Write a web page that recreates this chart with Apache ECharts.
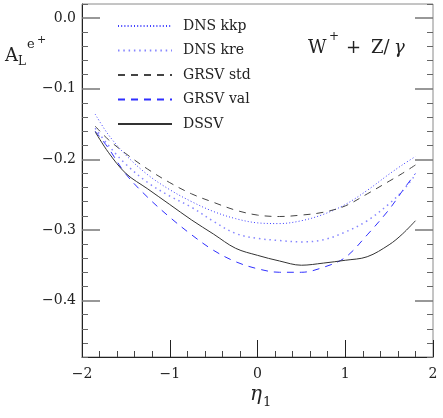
<!DOCTYPE html>
<html>
<head>
<meta charset="utf-8">
<script src="https://cdn.jsdelivr.net/npm/echarts@6/dist/echarts.min.js"></script>
<style>html,body{margin:0;padding:0;background:#fff;}#c{width:443px;height:418px;}</style>
</head>
<body>
<div id="c"></div>
<script>
// ---- data ----
const eta = [-1.85, -1.7, -1.5, -1.25, -1.0, -0.75, -0.5, -0.25, 0, 0.25, 0.5, 0.75, 1.0, 1.25, 1.5, 1.65, 1.8];
const dnsKkp  = [-0.136, -0.165, -0.194, -0.222, -0.243, -0.260, -0.274, -0.284, -0.290, -0.291, -0.287, -0.278, -0.264, -0.244, -0.221, -0.208, -0.196];
const dnsKre  = [-0.156, -0.180, -0.207, -0.233, -0.252, -0.268, -0.288, -0.305, -0.312, -0.315, -0.317, -0.314, -0.303, -0.287, -0.263, -0.245, -0.222];
const grsvStd = [-0.153, -0.172, -0.192, -0.214, -0.233, -0.249, -0.261, -0.272, -0.279, -0.281, -0.279, -0.275, -0.266, -0.249, -0.231, -0.220, -0.208];
const grsvVal = [-0.160, -0.184, -0.221, -0.254, -0.282, -0.307, -0.329, -0.345, -0.355, -0.360, -0.360, -0.353, -0.339, -0.307, -0.271, -0.245, -0.220];
const dssv    = [-0.161, -0.190, -0.220, -0.242, -0.264, -0.286, -0.306, -0.326, -0.336, -0.344, -0.350, -0.347, -0.343, -0.338, -0.321, -0.306, -0.287];
const seriesNames = ['DNS kkp', 'DNS kre', 'GRSV std', 'GRSV val', 'DSSV'];
const yMajorTicks = [-0.4, -0.3, -0.2, -0.1, 0.0];
const yMinorTicks = [-0.48, -0.46, -0.44, -0.42, -0.38, -0.36, -0.34, -0.32, -0.28, -0.26, -0.24, -0.22, -0.18, -0.16, -0.14, -0.12, -0.08, -0.06, -0.04, -0.02, 0.02];
const xTickLabels = ['−2', '−1', '0', '1', '2'];

const pairs = vals => eta.map((e, i) => [e, vals[i]]);
const FONT = 'DejaVu Serif';
const fmtY = v => (v < 0 ? '−' : '') + Math.abs(v).toFixed(1);

const chart = echarts.init(document.getElementById('c'), null, {renderer: 'canvas'});

function yAx(pos, ticks, len, showLabel, color, width, showLine) {
  return {
    type: 'value', position: pos, min: -0.48, max: 0.02,
    axisLine: {show: showLine, onZero: false, lineStyle: {color: '#222', width: 1}},
    axisTick: {show: true, inside: true, length: len, customValues: ticks, lineStyle: {color: color, width: width}},
    axisLabel: {show: showLabel, customValues: yMajorTicks, margin: 6, formatter: fmtY,
      fontFamily: FONT, fontSize: 14, color: '#222'},
    splitLine: {show: false}
  };
}

const lineSeries = (name, vals, color, type, width) => ({
  name: name, type: 'line', data: pairs(vals), smooth: 0.35, symbol: 'none', showSymbol: false,
  xAxisIndex: 0, yAxisIndex: 0,
  lineStyle: {color: color, type: type, width: width}, itemStyle: {color: color},
  emphasis: {disabled: true}, animation: false
});

chart.setOption({
  animation: false,
  grid: {left: 82, right: 10, top: 4, bottom: 61, show: true, borderColor: '#8a8a8a', borderWidth: 1, backgroundColor: 'transparent'},
  xAxis: [{
    type: 'value', min: -2, max: 2, interval: 1,
    axisLine: {show: true, onZero: false, lineStyle: {color: '#222', width: 1}},
    axisTick: {show: true, inside: true, length: 17, lineStyle: {color: '#222', width: 1}},
    minorTick: {show: true, splitNumber: 5, length: 6, lineStyle: {color: '#444', width: 1}},
    axisLabel: {margin: 10, fontFamily: FONT, fontSize: 14, color: '#222',
      formatter: v => xTickLabels[Math.round(v) + 2]},
    splitLine: {show: false}, minorSplitLine: {show: false}
  }],
  yAxis: [
    yAx('left', yMajorTicks, 18, true, '#777', 1.5, true),
    yAx('left', yMinorTicks, 6, false, '#666', 1, false),
    yAx('right', yMajorTicks, 18, false, '#777', 1.5, false),
    yAx('right', yMinorTicks, 6, false, '#666', 1, false)
  ],
  legend: {
    data: seriesNames, orient: 'vertical', left: 112, top: 14,
    itemWidth: 54, itemHeight: 14, itemGap: 10.5,
    itemStyle: {opacity: 0, borderWidth: 0},
    textStyle: {fontFamily: FONT, fontSize: 14, color: '#222', lineHeight: 14, padding: [0, 0, 0, 6]},
    selectedMode: false, inactiveColor: '#222'
  },
  series: [
    lineSeries(seriesNames[0], dnsKkp, '#3c3cff', [1, 2.2], 1),
    lineSeries(seriesNames[1], dnsKre, '#8686ff', [1.5, 3.8], 1.5),
    lineSeries(seriesNames[2], grsvStd, '#444444', [7, 6], 1),
    lineSeries(seriesNames[3], grsvVal, '#2f2fff', [7, 6], 1),
    lineSeries(seriesNames[4], dssv, '#333333', 'solid', 1)
  ],
  graphic: [
    // y-axis title A_L^{e+}
    {type: 'text', left: 5, top: 47, style: {text: 'A', font: '18px "' + FONT + '"', fill: '#222'}},
    {type: 'text', left: 18, top: 56, style: {text: 'L', font: '12px "' + FONT + '"', fill: '#222'}},
    {type: 'text', left: 27, top: 38, style: {text: 'e', font: '13px "' + FONT + '"', fill: '#222'}},
    {type: 'text', left: 37, top: 35, style: {text: '+', font: '11px "' + FONT + '"', fill: '#222'}},
    // process label W+ + Z/γ
    {type: 'text', left: 308, top: 39, style: {text: 'W', font: '18px "' + FONT + '"', fill: '#222'}},
    {type: 'text', left: 329, top: 31, style: {text: '+', font: '12px "' + FONT + '"', fill: '#222'}},
    {type: 'text', left: 346, top: 39, style: {text: '+', font: '18px "' + FONT + '"', fill: '#222'}},
    {type: 'text', left: 371, top: 39, style: {text: 'Z/', font: '18px "' + FONT + '"', fill: '#222'}},
    {type: 'text', left: 394, top: 39, style: {text: 'γ', font: 'italic 18px "' + FONT + '"', fill: '#222'}},
    // x-axis title η_1
    {type: 'text', left: 250, top: 385, style: {text: 'η', font: 'italic 20px "' + FONT + '"', fill: '#222'}},
    {type: 'text', left: 263, top: 396, style: {text: '1', font: '13px "' + FONT + '"', fill: '#222'}}
  ]
});
</script>
</body>
</html>
